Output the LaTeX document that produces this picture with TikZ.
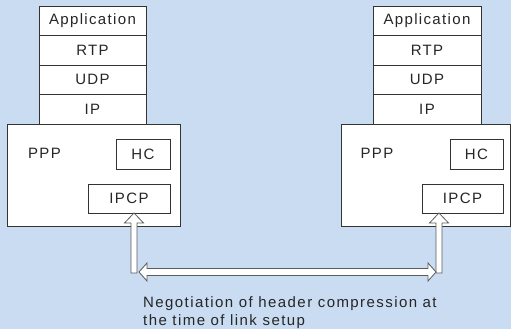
\documentclass[tikz,border=0pt]{standalone}
\usepackage{fontspec}
\setmainfont{Liberation Sans}
\newfontfamily\lblfont[LetterSpace=9]{Liberation Sans}
\newfontfamily\capfont[LetterSpace=9.5]{Liberation Sans}
\usetikzlibrary{calc}
\definecolor{bg}{HTML}{C9DCF2}
\definecolor{edge}{HTML}{333333}
\definecolor{arr}{HTML}{5C5C5C}
\tikzset{
  box/.style={draw=edge, line width=0.8pt, fill=white, inner sep=0pt},
  cell/.style={box, font=\lblfont\fontsize{15}{18}\selectfont, text=black!85},
  lbl/.style={font=\lblfont\fontsize{15}{18}\selectfont, text=black!85, inner sep=0pt},
  hollow/.style={draw=arr, line width=0.8pt, fill=white, line join=miter},
}
\newcommand\hollowup[3]{%
  \draw[hollow] (#1-3,#3) -- (#1-3,#2+10) -- (#1-9.5,#2+10) -- (#1,#2)
    -- (#1+9.5,#2+10) -- (#1+3,#2+10) -- (#1+3,#3) -- cycle;}
\begin{document}
\begin{tikzpicture}[x=1pt,y=-1pt]
\fill[bg] (0,0) rectangle (511,329);
\useasboundingbox (0,0) rectangle (511,329);

% left stack
\node[cell, minimum width=107pt, minimum height=29.5pt] (appL) at (92.5,20.75) {Application};
\node[cell, minimum width=107pt, minimum height=29.5pt] (rtpL) at (92.5,50.25) {RTP};
\node[cell, minimum width=107pt, minimum height=29.5pt] (udpL) at (92.5,79.75) {UDP};
\node[cell, minimum width=107pt, minimum height=29.5pt] (ipL) at (92.5,109.25) {IP};
% right stack
\node[cell, minimum width=108pt, minimum height=29.5pt] (appR) at (427,20.75) {Application};
\node[cell, minimum width=108pt, minimum height=29.5pt] (rtpR) at (427,50.25) {RTP};
\node[cell, minimum width=108pt, minimum height=29.5pt] (udpR) at (427,79.75) {UDP};
\node[cell, minimum width=108pt, minimum height=29.5pt] (ipR) at (427,109.25) {IP};

% PPP boxes
\node[box, minimum width=173pt, minimum height=102pt] (pppL) at (93.5,175) {};
\node[box, minimum width=169pt, minimum height=102pt] (pppR) at (425.5,175) {};
\node[lbl] (pppLt) at (44.5,153.5) {PPP};
\node[lbl] (pppRt) at (377,153.5) {PPP};
\node[cell, minimum width=54pt, minimum height=30pt] (hcL) at (143,154) {HC};
\node[cell, minimum width=53pt, minimum height=30pt] (hcR) at (476.5,154) {HC};
\node[cell, minimum width=82pt, minimum height=29pt] (ipcpL) at (129,198.5) {IPCP};
\node[cell, minimum width=81pt, minimum height=29pt] (ipcpR) at (462.5,198.5) {IPCP};

% arrows
\hollowup{134}{213}{273}
\hollowup{439}{213}{273}
\draw[hollow] (139,272) -- (147,263) -- (147,268.5) -- (428,268.5) -- (428,263)
  -- (436,272) -- (428,281) -- (428,275.5) -- (147,275.5) -- (147,281) -- cycle;

% caption
\node[anchor=base west, inner sep=0pt, font=\capfont\fontsize{15}{18}\selectfont, text=black!85] (cap1) at (143,307) {Negotiation of header compression at};
\node[anchor=base west, inner sep=0pt, font=\capfont\fontsize{15}{18}\selectfont, text=black!85] (cap2) at (143,325) {the time of link setup};
\end{tikzpicture}
\end{document}
